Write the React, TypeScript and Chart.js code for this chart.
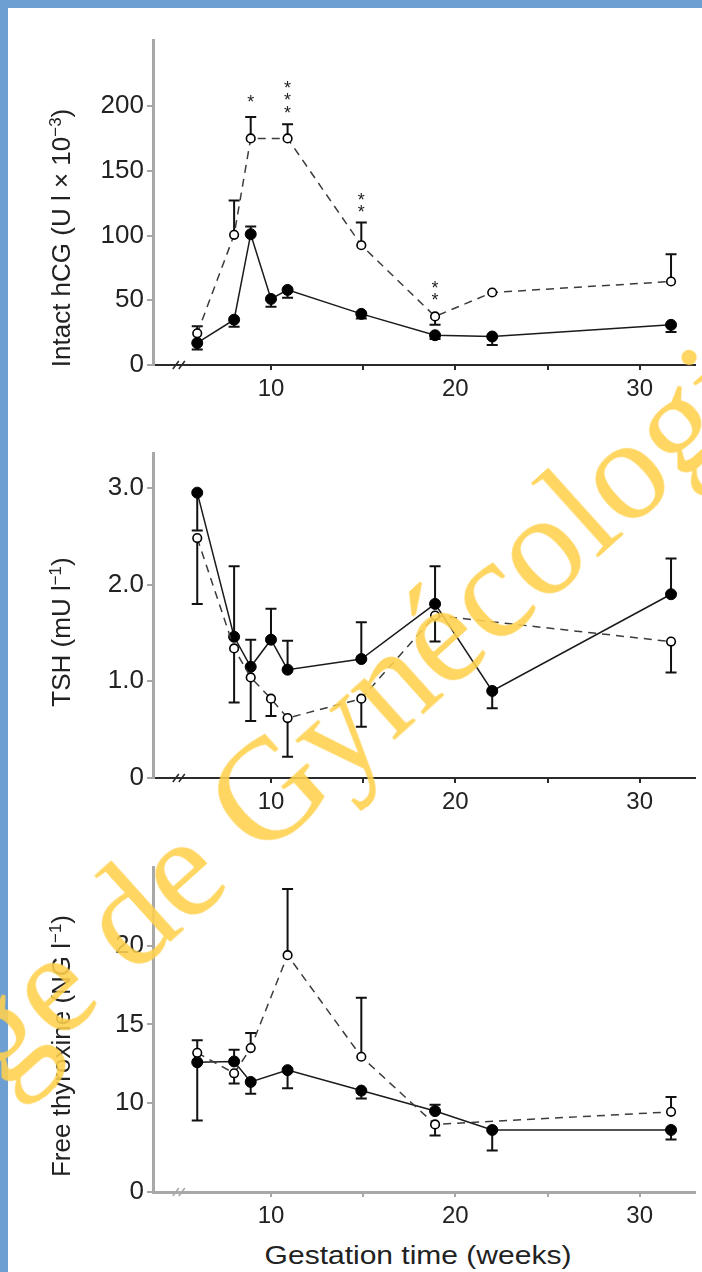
import React, { useEffect, useRef } from 'react';
import { Chart, registerables } from 'chart.js';
Chart.register(...registerables);

const FONT = "'Liberation Sans', Arial, Helvetica, sans-serif";

// ---- shared x axis (gestation time, weeks)
const xTickValues = [10, 15, 20, 25, 30];
const xTickLabels = ['10', '', '20', '', '30'];
const xMin = 3.6;
const xMax = 33;
const breakWeek = 5.0;

// ---- Intact hCG (U l x 10^-3)
const hcgSolidWeeks = [6, 8, 8.9, 10, 10.9, 14.9, 18.9, 22, 31.7];
const hcgSolid = [17, 35, 101, 51, 58, 39.5, 23, 22, 31];
const hcgSolidErr = [12, 29.5, 107, 45, 52, 36, 20, 15.5, 25.5];
const hcgOpenWeeks = [6, 8, 8.9, 10.9, 14.9, 18.9, 22, 31.7];
const hcgOpen = [24.5, 100.5, 175, 175, 92.5, 37.5, 56, 64.5];
const hcgOpenErr = [30, 127, 191.5, 186, 110, 31, null, 85.5];
const hcgStarWeeks = [8.9, 10.9, 14.9, 18.9];
const hcgStarCounts = [1, 3, 2, 2];
const hcgStarValues = [206, 198, 121, 53];
const hcgTicks = [0, 50, 100, 150, 200];
const hcgTickLabels = ['0', '50', '100', '150', '200'];

// ---- TSH (mU l-1)
const tshSolidWeeks = [6, 8, 8.9, 10, 10.9, 14.9, 18.9, 22, 31.7];
const tshSolid = [2.95, 1.46, 1.15, 1.43, 1.12, 1.23, 1.8, 0.9, 1.9];
const tshSolidErr = [2.56, 2.19, 1.43, 1.75, 1.42, 1.61, 2.19, 0.72, 2.27];
const tshOpenWeeks = [6, 8, 8.9, 10, 10.9, 14.9, 18.9, 31.7];
const tshOpen = [2.48, 1.34, 1.04, 0.82, 0.62, 0.82, 1.68, 1.41];
const tshOpenErr = [1.8, 0.78, 0.59, 0.64, 0.22, 0.53, 1.41, 1.09];
const tshTicks = [0, 1, 2, 3];
const tshTickLabels = ['0', '1.0', '2.0', '3.0'];

// ---- Free thyroxine (NG l-1)  (broken axis: bottom tick reads 0)
const ft4SolidWeeks = [6, 8, 8.9, 10.9, 14.9, 18.9, 22, 31.7];
const ft4Solid = [12.6, 12.65, 11.35, 12.1, 10.8, 9.5, 8.3, 8.3];
const ft4SolidErr = [8.9, 13.4, 10.6, 10.95, 10.3, 9.9, 7.0, 7.7];
const ft4OpenWeeks = [6, 8, 8.9, 10.9, 14.9, 18.9, 31.7];
const ft4Open = [13.2, 11.9, 13.5, 19.4, 12.95, 8.65, 9.45];
const ft4OpenErr = [14.0, 11.25, 14.45, 23.6, 16.7, 7.95, 10.4];
const ft4TickValues = [4.36, 10, 15, 20];
const ft4TickLabels = ['0', '10', '15', '20'];

type Series = { xs: number[]; ys: number[]; err: (number | null)[]; open: boolean };
type Stars = { weeks: number[]; counts: number[]; values: number[] };
type Spec = {
  top: number; height: number; padTop: number;
  yMin: number; yMax: number; yTicks: number[]; yLabels: string[];
  xAxisColor: string; xAxisWidth: number;
  series: Series[]; stars?: Stars;
};

const specs: Spec[] = [
  {
    top: 0, height: 400, padTop: 40, yMin: 0, yMax: 251,
    yTicks: hcgTicks, yLabels: hcgTickLabels,
    xAxisColor: '#2a2a2a', xAxisWidth: 2,
    series: [
      { xs: hcgOpenWeeks, ys: hcgOpen, err: hcgOpenErr, open: true },
      { xs: hcgSolidWeeks, ys: hcgSolid, err: hcgSolidErr, open: false },
    ],
    stars: { weeks: hcgStarWeeks, counts: hcgStarCounts, values: hcgStarValues },
  },
  {
    top: 420, height: 393, padTop: 33, yMin: 0, yMax: 3.36,
    yTicks: tshTicks, yLabels: tshTickLabels,
    xAxisColor: '#2a2a2a', xAxisWidth: 2,
    series: [
      { xs: tshOpenWeeks, ys: tshOpen, err: tshOpenErr, open: true },
      { xs: tshSolidWeeks, ys: tshSolid, err: tshSolidErr, open: false },
    ],
  },
  {
    top: 840, height: 387, padTop: 27, yMin: 4.36, yMax: 25,
    yTicks: ft4TickValues, yLabels: ft4TickLabels,
    xAxisColor: '#a8a8a8', xAxisWidth: 3,
    series: [
      { xs: ft4OpenWeeks, ys: ft4Open, err: ft4OpenErr, open: true },
      { xs: ft4SolidWeeks, ys: ft4Solid, err: ft4SolidErr, open: false },
    ],
  },
];

function Panel({ spec }: { spec: Spec }) {
  const ref = useRef<HTMLCanvasElement>(null);
  useEffect(() => {
    const canvas = ref.current;
    if (!canvas) return;
    const datasets = spec.series.map((s) => ({
      data: s.xs.map((x, i) => ({ x, y: s.ys[i] })),
      borderColor: s.open ? '#3c3c3c' : '#1a1a1a',
      borderWidth: 1.5,
      borderDash: s.open ? [8, 6] : [],
      pointRadius: s.open ? 4.3 : 5.5,
      pointBackgroundColor: s.open ? '#ffffff' : '#000000',
      pointBorderColor: '#000000',
      pointBorderWidth: s.open ? 1.6 : 1,
      tension: 0,
      fill: false,
    }));

    const decor = {
      id: 'decor',
      beforeDatasetsDraw(chart: any) {
        const { ctx, scales } = chart;
        const x = scales.x, y = scales.y;
        ctx.save();
        ctx.strokeStyle = '#111';
        ctx.lineWidth = 2;
        spec.series.forEach((s) => {
          s.xs.forEach((w, i) => {
            const e = s.err[i];
            if (e === null || e === undefined) return;
            const px = x.getPixelForValue(w);
            const py = y.getPixelForValue(s.ys[i]);
            const pe = y.getPixelForValue(e);
            ctx.beginPath();
            ctx.moveTo(px, py);
            ctx.lineTo(px, pe);
            ctx.moveTo(px - 5.5, pe);
            ctx.lineTo(px + 5.5, pe);
            ctx.stroke();
          });
        });
        ctx.restore();
      },
      afterDatasetsDraw(chart: any) {
        const { ctx, scales, chartArea } = chart;
        const x = scales.x, y = scales.y;
        ctx.save();
        // axis break marks
        const bx = x.getPixelForValue(breakWeek);
        const by = chartArea.bottom;
        ctx.strokeStyle = spec.xAxisColor;
        ctx.lineWidth = 1.6;
        [-3, 3].forEach((dx) => {
          ctx.beginPath();
          ctx.moveTo(bx + dx - 3, by + 4);
          ctx.lineTo(bx + dx + 3, by - 4);
          ctx.stroke();
        });
        // significance stars
        if (spec.stars) {
          const st = spec.stars;
          ctx.fillStyle = '#222';
          ctx.font = `18px ${FONT}`;
          ctx.textAlign = 'center';
          ctx.textBaseline = 'alphabetic';
          st.weeks.forEach((w, i) => {
            const px = x.getPixelForValue(w);
            const py = y.getPixelForValue(st.values[i]);
            for (let k = 0; k < st.counts[i]; k++) {
              ctx.fillText('*', px, py - k * 12.5 + 10);
            }
          });
        }
        ctx.restore();
      },
    };

    const chart = new Chart(canvas, {
      type: 'line',
      data: { datasets: datasets as any },
      options: {
        responsive: false,
        animation: false,
        devicePixelRatio: 1,
        events: [],
        layout: { padding: { top: spec.padTop, right: 7, left: 0, bottom: 0 } },
        plugins: { legend: { display: false }, tooltip: { enabled: false } },
        scales: {
          x: {
            type: 'linear',
            min: xMin,
            max: xMax,
            afterBuildTicks: (s: any) => { s.ticks = xTickValues.map((v) => ({ value: v })); },
            afterFit: (s: any) => { s.height = 35; },
            ticks: {
              autoSkip: false,
              maxRotation: 0,
              padding: 5,
              color: '#222',
              font: { size: 24, family: FONT },
              callback: (_v: any, i: number) => xTickLabels[i],
            },
            grid: { drawOnChartArea: false, drawTicks: true, tickLength: 5, color: spec.xAxisColor, lineWidth: 2 },
            border: { color: spec.xAxisColor, width: spec.xAxisWidth },
          },
          y: {
            type: 'linear',
            min: spec.yMin,
            max: spec.yMax,
            afterBuildTicks: (s: any) => { s.ticks = spec.yTicks.map((v) => ({ value: v })); },
            afterFit: (s: any) => { s.width = 153; },
            ticks: {
              padding: 3,
              color: '#222',
              font: { size: 26, family: FONT },
              callback: (_v: any, i: number) => spec.yLabels[i],
            },
            grid: { drawOnChartArea: false, drawTicks: true, tickLength: 6, color: '#a8a8a8', lineWidth: 2 },
            border: { color: '#a8a8a8', width: 3 },
          },
        },
      } as any,
      plugins: [decor as any],
    });
    return () => chart.destroy();
  }, [spec]);
  return (
    <canvas
      ref={ref}
      width={702}
      height={spec.height}
      style={{ position: 'absolute', left: 0, top: spec.top, width: 702, height: spec.height }}
    />
  );
}

const titleStyle: React.CSSProperties = {
  position: 'absolute',
  fontFamily: FONT,
  color: '#222',
  whiteSpace: 'nowrap',
  lineHeight: 1,
};

function VTitle({ cx, cy, children }: { cx: number; cy: number; children: React.ReactNode }) {
  return (
    <div style={{ ...titleStyle, fontSize: 26, left: cx, top: cy, transform: 'translate(-50%, -50%) rotate(-90deg)' }}>
      {children}
    </div>
  );
}

const supStyle: React.CSSProperties = { fontSize: '0.65em', verticalAlign: '0.55em', lineHeight: 0 };

export default function App() {
  return (
    <div style={{ position: 'absolute', left: 0, top: 0, width: 702, height: 1272, background: '#6d9fd2', overflow: 'hidden' }}>
      <div style={{ position: 'absolute', left: 8, top: 8, width: 694, height: 1264, background: '#ffffff' }} />
      {specs.map((s, i) => (
        <Panel key={i} spec={s} />
      ))}
      <VTitle cx={61} cy={238}>
        Intact hCG (U l × 10<span style={supStyle}>−3</span>)
      </VTitle>
      <VTitle cx={61} cy={632}>
        TSH (mU l<span style={supStyle}>−1</span>)
      </VTitle>
      <VTitle cx={61} cy={1046}>
        Free thyroxine (NG l<span style={supStyle}>−1</span>)
      </VTitle>
      <div style={{ ...titleStyle, fontSize: 25, left: 418, top: 1255, transform: 'translate(-50%, -50%) scaleX(1.2)' }}>
        Gestation time (weeks)
      </div>
      <div
        style={{
          position: 'absolute',
          left: -311,
          top: 1213,
          transformOrigin: '0 0',
          transform: 'rotate(-42deg)',
          fontFamily: "'Liberation Serif', 'Times New Roman', serif",
          fontSize: 145,
          lineHeight: '145px',
          whiteSpace: 'nowrap',
          color: 'rgba(255, 208, 75, 0.88)',
          pointerEvents: 'none',
        }}
      >
        Collège de Gynécologie
      </div>
    </div>
  );
}
